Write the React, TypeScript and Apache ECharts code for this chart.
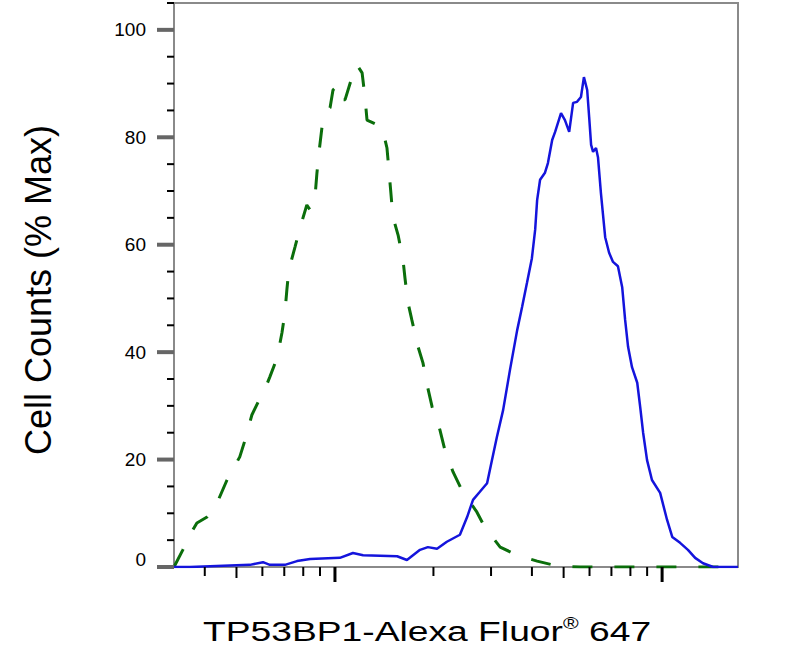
import React, { useEffect, useRef } from 'react';
import * as echarts from 'echarts';

// Control (isotype) histogram: log10 fluorescence intensity and % max counts
const controlLog = [2.508, 2.535, 2.557, 2.578, 2.609, 2.633, 2.670, 2.709, 2.725, 2.746, 2.765, 2.777, 2.801, 2.823, 2.838, 2.847, 2.853, 2.859, 2.878, 2.893, 2.914, 2.924, 2.939, 2.945, 2.951, 2.960, 2.969, 2.985, 2.994, 3.009, 3.021, 3.031, 3.052, 3.067, 3.083, 3.092, 3.098, 3.144, 3.159, 3.165, 3.171, 3.177, 3.193, 3.208, 3.214, 3.223, 3.235, 3.254, 3.269, 3.284, 3.297, 3.321, 3.336, 3.361, 3.388, 3.413, 3.434, 3.459, 3.505, 3.557, 3.618, 3.679, 3.749, 3.872, 4.086, 4.232];
const controlCounts = [0, 3.2, 6.0, 8.2, 9.3, 11.0, 16.2, 20.5, 23.6, 28.3, 30.7, 31.7, 35.4, 38.9, 43.6, 47.3, 51.6, 55.3, 59.6, 63.1, 67.4, 66.5, 68.9, 73.4, 77.1, 81.7, 84.5, 85.5, 88.8, 89.7, 87.0, 87.0, 91.2, 93.5, 92.0, 87.3, 83.2, 81.9, 78.0, 73.9, 69.6, 65.2, 61.8, 57.2, 53.8, 49.3, 46.0, 41.0, 38.0, 33.3, 29.8, 25.5, 21.8, 17.7, 14.3, 12.1, 10.2, 7.3, 3.7, 2.2, 1.1, 0.2, 0, 0, 0, 0];

// Stained (TP53BP1-Alexa Fluor 647) histogram
const stainedLog = [2.508, 2.557, 2.740, 2.780, 2.801, 2.847, 2.884, 2.924, 3.015, 3.055, 3.086, 3.190, 3.220, 3.260, 3.284, 3.312, 3.342, 3.382, 3.404, 3.422, 3.443, 3.465, 3.480, 3.495, 3.514, 3.535, 3.557, 3.572, 3.587, 3.602, 3.612, 3.618, 3.627, 3.642, 3.651, 3.664, 3.673, 3.691, 3.703, 3.716, 3.728, 3.740, 3.752, 3.761, 3.771, 3.777, 3.783, 3.789, 3.798, 3.804, 3.813, 3.826, 3.838, 3.850, 3.865, 3.878, 3.887, 3.896, 3.908, 3.924, 3.933, 3.942, 3.954, 3.969, 3.994, 4.015, 4.031, 4.055, 4.079, 4.101, 4.125, 4.156, 4.232];
const stainedCounts = [0, 0, 0.4, 0.9, 0.4, 0.4, 1.1, 1.5, 1.7, 2.6, 2.2, 2.0, 1.3, 3.2, 3.7, 3.4, 4.7, 6.0, 9.3, 12.5, 14.0, 15.6, 19.9, 24.2, 29.2, 36.7, 44.1, 48.4, 52.9, 57.5, 62.8, 68.3, 72.1, 73.4, 75.2, 79.5, 81.0, 84.5, 83.2, 81.0, 86.4, 86.6, 87.5, 91.2, 88.8, 83.8, 78.6, 77.3, 78.0, 76.3, 69.6, 61.4, 58.5, 56.8, 56.0, 52.1, 46.0, 41.0, 37.2, 34.3, 29.8, 25.0, 19.9, 16.2, 13.8, 8.8, 5.6, 4.5, 3.2, 1.7, 0.7, 0, 0];

// Tick values
const yMajorTicks = [0, 20, 40, 60, 80, 100];
const yMinorTicks = [5, 10, 15, 25, 30, 35, 45, 50, 55, 65, 70, 75, 85, 90, 95, 105];
const xMajorTicks = [1000, 10000];
const xMinorTicks = [400, 500, 600, 700, 800, 900, 2000, 3000, 4000, 5000, 6000, 7000, 8000, 9000];

const X_MIN = 2.508;
const X_MAX = 4.232;
const Y_MIN = 0;
const Y_MAX = 105;

const yTitle = 'Cell Counts (% Max)';
const xTitleMain = 'TP53BP1-Alexa Fluor';
const xTitleMark = '®';
const xTitleEnd = ' 647';

export default function App() {
  const ref = useRef<HTMLDivElement>(null);

  useEffect(() => {
    document.body.style.margin = '0';
    const chart = echarts.init(ref.current as HTMLDivElement, null, { renderer: 'svg' });
    const font = "'Liberation Sans', Arial, Helvetica, sans-serif";
    const zip = (xs: number[], ys: number[]) =>
      xs.slice(0, Math.min(xs.length, ys.length)).map((x, i) => [x, ys[i]]);

    const tickSeries = (data: number[][], draw: (p: number[], api: any) => any) => ({
      type: 'custom',
      coordinateSystem: 'cartesian2d',
      clip: false,
      silent: true,
      z: 5,
      data,
      renderItem: (_params: any, api: any) => {
        const p = api.coord([api.value(0), api.value(1)]);
        return draw(p, api);
      },
    });

    chart.setOption({
      animation: false,
      grid: {
        left: 174,
        right: 58,
        top: 3,
        bottom: 98,
        show: true,
        borderColor: '#8a8a8a',
        borderWidth: 2,
        backgroundColor: 'transparent',
      },
      xAxis: {
        type: 'value',
        min: X_MIN,
        max: X_MAX,
        axisLine: { show: true, lineStyle: { color: '#8a8a8a', width: 2 } },
        axisTick: { show: false },
        axisLabel: { show: false },
        splitLine: { show: false },
      },
      yAxis: {
        type: 'value',
        min: Y_MIN,
        max: Y_MAX,
        interval: 20,
        axisLine: { show: true, lineStyle: { color: '#8a8a8a', width: 2 } },
        axisTick: { show: false },
        splitLine: { show: false },
        axisLabel: {
          margin: 28,
          fontSize: 19,
          color: '#000',
          fontFamily: font,
          showMaxLabel: false,
          formatter: (v: number) => (v > 100 ? '' : v === 0 ? '{z|0}' : String(v)),
          rich: {
            z: { fontSize: 19, color: '#000', fontFamily: font, padding: [0, 0, 16, 0] },
          },
        },
      },
      series: [
        {
          type: 'line',
          name: 'Control',
          data: zip(controlLog, controlCounts),
          showSymbol: false,
          symbol: 'none',
          z: 3,
          lineStyle: { color: '#0b6e0b', width: 3, type: [20, 22] },
        },
        {
          type: 'line',
          name: 'TP53BP1',
          data: zip(stainedLog, stainedCounts),
          showSymbol: false,
          symbol: 'none',
          z: 4,
          lineStyle: { color: '#1414dc', width: 2.5 },
        },
        tickSeries(yMajorTicks.map((v) => [X_MIN, v]), (p) => ({
          type: 'rect',
          shape: { x: p[0] - 17, y: p[1] - 2, width: 17, height: 4 },
          style: { fill: '#666' },
        })),
        tickSeries(yMinorTicks.map((v) => [X_MIN, v]), (p) => ({
          type: 'rect',
          shape: { x: p[0] - 7, y: p[1] - 1, width: 7, height: 2 },
          style: { fill: '#000' },
        })),
        tickSeries(xMajorTicks.map((v) => [Math.log10(v), Y_MIN, v]), (p) => ({
          type: 'rect',
          shape: { x: p[0] - 1.5, y: p[1], width: 3, height: 15 },
          style: { fill: '#000' },
        })),
        tickSeries(xMinorTicks.map((v) => [Math.log10(v), Y_MIN, v]), (p, api) => ({
          type: 'rect',
          shape: {
            x: p[0] - 1,
            y: p[1],
            width: 2,
            height: String(api.value(2)).charAt(0) === '5' ? 11 : 9,
          },
          style: { fill: '#000' },
        })),
      ],
      graphic: [
        {
          type: 'text',
          x: 38,
          y: 290,
          rotation: Math.PI / 2,
          style: {
            text: yTitle,
            fontSize: 36,
            fontFamily: font,
            fill: '#000',
            align: 'center',
            verticalAlign: 'middle',
          },
        },
        {
          type: 'text',
          x: 427,
          y: 631,
          scaleX: 1.33,
          style: {
            text: `{a|${xTitleMain}}{s|${xTitleMark}}{a|${xTitleEnd}}`,
            align: 'center',
            verticalAlign: 'middle',
            rich: {
              a: { fontSize: 28, fontFamily: font, fill: '#000', color: '#000', lineHeight: 32 },
              s: { fontSize: 16, fontFamily: font, fill: '#000', color: '#000', verticalAlign: 'top', lineHeight: 18 },
            },
          },
        },
      ],
    });

    return () => chart.dispose();
  }, []);

  return <div ref={ref} style={{ width: 796, height: 665 }} />;
}
